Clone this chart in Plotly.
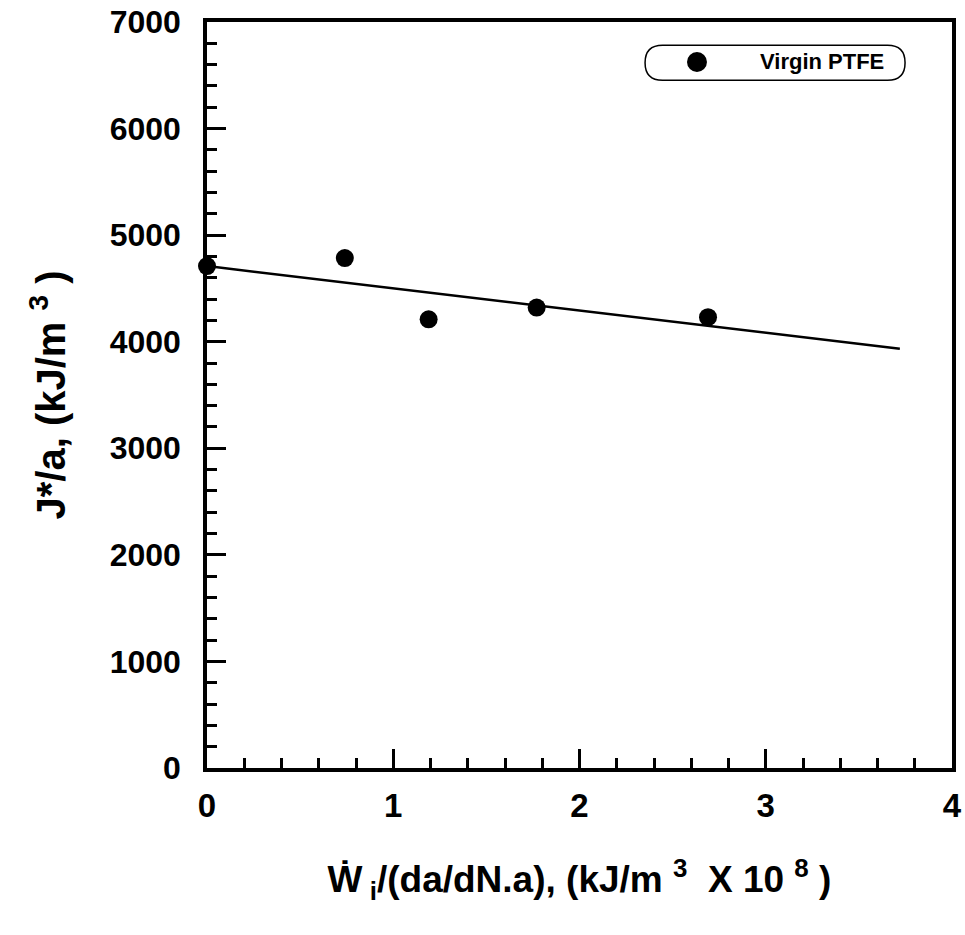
import plotly.graph_objects as go

# Data
x_pts = [0.0, 0.74, 1.19, 1.77, 2.69]
y_pts = [4710, 4785, 4210, 4320, 4230]
fit_x = [0.0, 3.72]
fit_y = [4710, 3935]
series_name = "Virgin PTFE"
x_ticks = [0, 1, 2, 3, 4]
y_ticks = [0, 1000, 2000, 3000, 4000, 5000, 6000, 7000]

FONT = "Arial, Liberation Sans, sans-serif"

fig = go.Figure()
fig.add_trace(go.Scatter(x=fit_x, y=fit_y, mode="lines",
                         line=dict(color="black", width=2.5),
                         showlegend=False, hoverinfo="skip"))
fig.add_trace(go.Scatter(x=x_pts, y=y_pts, mode="markers", name=series_name,
                         marker=dict(color="black", size=18),
                         showlegend=False, cliponaxis=False))

# legend pill
x0, x1, y0, y1 = 0.588, 0.937, 0.922, 0.969
r = (y1 - y0) / 2
path = (f"M {x0+r},{y0} L {x1-r},{y0} Q {x1},{y0} {x1},{y0+r} Q {x1},{y1} {x1-r},{y1} "
        f"L {x0+r},{y1} Q {x0},{y1} {x0},{y0+r} Q {x0},{y0} {x0+r},{y0} Z")
fig.add_shape(type="path", path=path, xref="paper", yref="paper",
              line=dict(color="black", width=1.5))
cx, cy, rr = 0.6577, 0.9464, 0.0134
fig.add_shape(type="circle", xref="paper", yref="paper",
              x0=cx-rr, x1=cx+rr, y0=cy-rr, y1=cy+rr,
              fillcolor="black", line=dict(color="black", width=0))
fig.add_annotation(text=series_name, xref="paper", yref="paper", x=0.7396, y=0.9464,
                   xanchor="left", yanchor="middle", showarrow=False,
                   font=dict(family=FONT, size=22, color="black", weight="bold"))

axis_common = dict(showline=True, linecolor="black", linewidth=3.5, mirror=True,
                   showgrid=False, zeroline=False, ticks="inside",
                   tickcolor="black", tickwidth=3, ticklen=19,
                   ticklabeloverflow="allow", automargin=False)

fig.update_xaxes(range=[0, 4], tickvals=x_ticks,
                 ticktext=[str(v) for v in x_ticks],
                 tickfont=dict(family=FONT, size=33, color="black", weight="bold"),
                 ticklabelstandoff=6,
                 minor=dict(dtick=0.2, ticks="inside", ticklen=10, tickwidth=3, tickcolor="black"),
                 title=dict(text="Ẇ<sub> i</sub>/(da/dN.a), (kJ/m <sup>3</sup>  X 10 <sup>8</sup> )",
                            font=dict(family=FONT, size=37, color="black", weight="bold"),
                            standoff=44),
                 **axis_common)
fig.update_yaxes(range=[0, 7000], tickvals=y_ticks,
                 ticktext=[str(v) for v in y_ticks],
                 tickfont=dict(family=FONT, size=32, color="black", weight="bold"),
                 ticklabelstandoff=16,
                 minor=dict(dtick=200, ticks="inside", ticklen=10, tickwidth=3, tickcolor="black"),
                 title=dict(text="J*/a, (kJ/m <sup>3</sup> )",
                            font=dict(family=FONT, size=40, color="black", weight="bold"),
                            standoff=33),
                 **axis_common)

fig.update_layout(width=965, height=935,
                  margin=dict(l=207, r=13, t=22, b=167),
                  plot_bgcolor="white", paper_bgcolor="white",
                  showlegend=False)

fig.write_html("out.html", config={"displayModeBar": False},
               post_script="document.body.style.margin='0';document.body.style.overflow='hidden';")
